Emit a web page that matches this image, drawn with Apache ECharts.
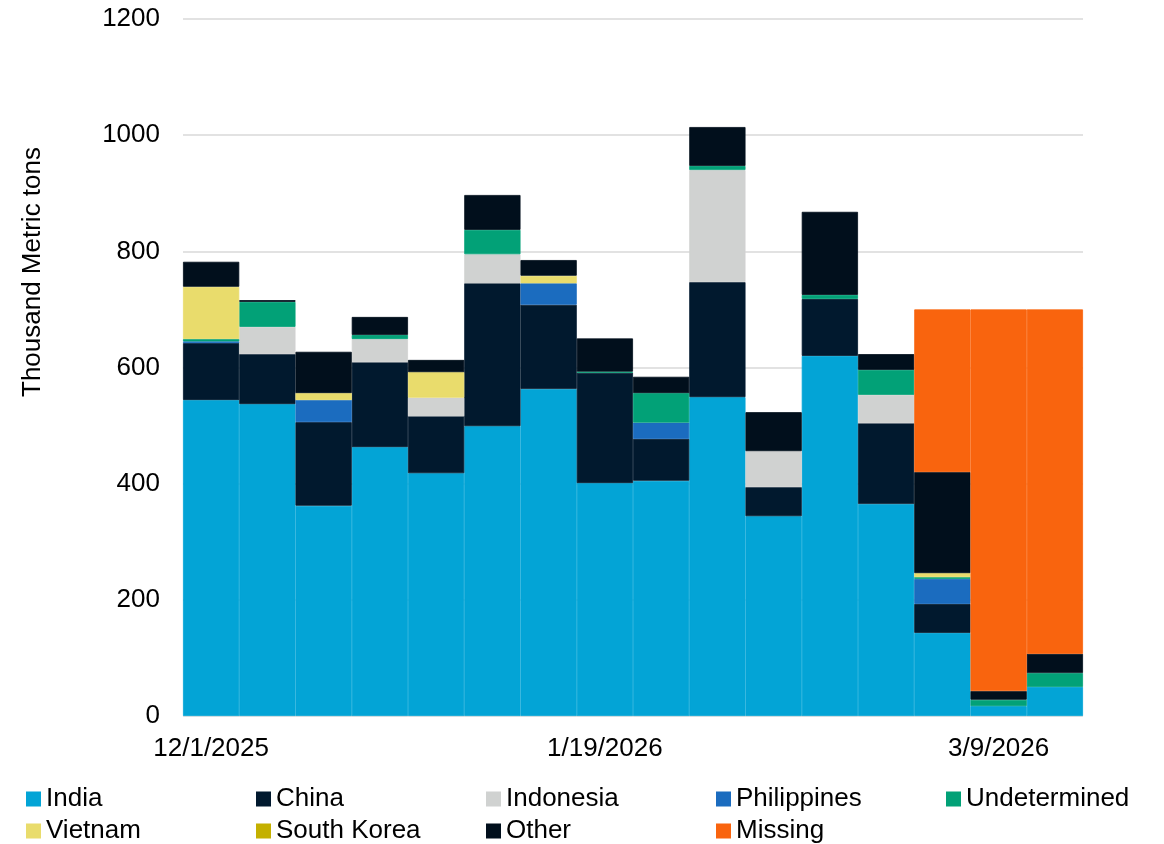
<!DOCTYPE html>
<html>
<head>
<meta charset="utf-8">
<script src="https://cdn.jsdelivr.net/npm/echarts@6/dist/echarts.min.js"></script>
<style>
    html, body { margin: 0; padding: 0; background: #fff; }
    #chart { width: 1164px; height: 844px; }
</style>
</head>
<body>
<div id="chart"></div>
<script>
    // weekly categories
    var weeks = ['12/1/2025', '12/8/2025', '12/15/2025', '12/22/2025', '12/29/2025', '1/5/2026', '1/12/2026', '1/19/2026',
        '1/26/2026', '2/2/2026', '2/9/2026', '2/16/2026', '2/23/2026', '3/2/2026', '3/9/2026', '3/16/2026'];

    // thousand metric tons
    var india        = [544, 537, 362, 463, 418, 499, 563, 401, 405, 549, 344, 620, 365, 143, 17, 50];
    var china        = [98, 86, 144, 146, 98, 246, 145, 190, 72, 198, 50, 98, 139, 50, 0, 0];
    var indonesia    = [0, 47, 0, 40, 32, 50, 0, 0, 0, 193, 62, 0, 49, 0, 0, 0];
    var philippines  = [3, 0, 38, 0, 0, 0, 37, 0, 28, 0, 0, 0, 0, 43, 0, 0];
    var undetermined = [4, 43, 0, 7, 0, 42, 0, 2, 51, 7, 0, 7, 43, 3, 11, 24];
    var vietnam      = [90, 0, 12, 0, 44, 0, 13, 0, 0, 0, 0, 0, 0, 7, 0, 0];
    var southKorea   = [0, 0, 0, 0, 0, 0, 0, 0, 0, 0, 0, 0, 0, 0, 0, 0];
    var other        = [43, 3, 71, 31, 21, 60, 27, 57, 28, 67, 67, 143, 27, 174, 15, 33];
    var missing      = [0, 0, 0, 0, 0, 0, 0, 0, 0, 0, 0, 0, 0, 280, 657, 593];

    var yTicks = [0, 200, 400, 600, 800, 1000, 1200];

    var font = '"Liberation Sans", Arial, sans-serif';

    var seriesDefs = [
        { name: 'India', data: india, color: '#03A4D6' },
        { name: 'China', data: china, color: '#01192E' },
        { name: 'Indonesia', data: indonesia, color: '#D0D2D1' },
        { name: 'Philippines', data: philippines, color: '#1B6CBF' },
        { name: 'Undetermined', data: undetermined, color: '#02A177' },
        { name: 'Vietnam', data: vietnam, color: '#E9DC6C' },
        { name: 'South Korea', data: southKorea, color: '#C4B000' },
        { name: 'Other', data: other, color: '#010F1C' },
        { name: 'Missing', data: missing, color: '#F9640E' }
    ];

    var series = seriesDefs.map(function (s) {
        return {
            name: s.name,
            type: 'bar',
            stack: 'total',
            barCategoryGap: '0%',
            // empty weeks are left out so they draw nothing
            data: s.data.map(function (v) { return v === 0 ? null : v; }),
            itemStyle: { color: s.color, borderColor: s.color, borderWidth: 0.8 },
            emphasis: { disabled: true }
        };
    });

    // legend laid out in five columns of two rows
    var columns = [
        ['India', 'Vietnam'],
        ['China', 'South Korea'],
        ['Indonesia', 'Other'],
        ['Philippines', 'Missing'],
        ['Undetermined']
    ];
    var legends = columns.map(function (names, i) {
        return {
            data: names,
            orient: 'vertical',
            left: 26 + i * 230,
            top: 786,
            height: 60,
            padding: 0,
            itemWidth: 13,
            itemHeight: 13,
            itemGap: 6,
            icon: 'rect',
            selectedMode: false,
            textStyle: { fontFamily: font, fontSize: 26, color: '#000', lineHeight: 26, padding: [0, 0, 0, 1] }
        };
    });

    var chart = echarts.init(document.getElementById('chart'));
    chart.setOption({
        animation: false,
        legend: legends,
        grid: { left: 183, right: 81, top: 19, bottom: 128 },
        xAxis: {
            type: 'category',
            data: weeks,
            axisLine: { show: false },
            axisTick: { show: false },
            axisLabel: { interval: 6, margin: 20, fontFamily: font, fontSize: 26, color: '#000' }
        },
        yAxis: {
            type: 'value',
            min: yTicks[0],
            max: yTicks[yTicks.length - 1],
            interval: 200,
            axisLine: { show: false },
            axisTick: { show: false },
            axisLabel: { margin: 23, fontFamily: font, fontSize: 26, color: '#000', formatter: function (v) { return String(v); } },
            splitLine: { lineStyle: { color: '#D9D9D9', width: 1.5 } }
        },
        graphic: [{
            type: 'text',
            x: 33,
            y: 272,
            rotation: Math.PI / 2,
            style: {
                text: 'Thousand Metric tons',
                font: '26px ' + font,
                fill: '#000',
                textAlign: 'center',
                textVerticalAlign: 'middle'
            }
        }],
        series: series
    });
</script>
</body>
</html>
